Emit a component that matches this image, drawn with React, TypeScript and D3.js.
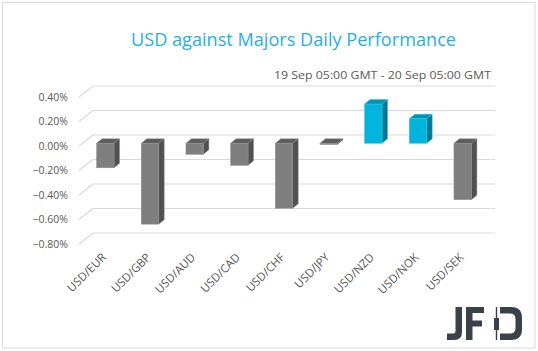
import React from "react";
import * as d3 from "d3";

const pairs = ["USD/EUR", "USD/GBP", "USD/AUD", "USD/CAD", "USD/CHF", "USD/JPY", "USD/NZD", "USD/NOK", "USD/SEK"];
const changes = [-0.2, -0.66, -0.09, -0.18, -0.53, -0.01, 0.32, 0.2, -0.46];
const yTicks = [0.4, 0.2, 0, -0.2, -0.4, -0.6, -0.8];

const W = 538;
const H = 351;
const depthX = 14;
const depthY = -11;
const barDx = 5.5;
const barDy = -4.5;

const App = () => {
    // front plane of the side wall (labels hang off this)
    const yFront = d3.scaleLinear().domain([-0.8, 0.4]).range([244, 97]);
    // bar fronts sit a little into the depth
    const yBar = d3.scaleLinear().domain([-0.8, 0.4]).range([241.3, 94.3]);
    const x = d3.scaleBand().domain(pairs).range([83, 485]);
    const bw = x.bandwidth() * 0.39;
    const wallLeft = 79;
    const wallRight = 495;

    return (
        <svg width={W} height={H} style={{ position: "absolute", left: 0, top: 0, background: "#fff" }}>
            <rect x={2.5} y={2.5} width={532.5} height={345.5} fill="#fff" stroke="#d9d9d9" strokeWidth={1} />
            <text
                x={131}
                y={46}
                fontFamily="Open Sans"
                fontSize={18}
                fill="#1fb1e0"
                textLength={325}
                lengthAdjust="spacingAndGlyphs"
            >
                USD against Majors Daily Performance
            </text>
            <text
                x={491}
                y={78.5}
                textAnchor="end"
                fontFamily="Open Sans"
                fontSize={11.5}
                fill="#595959"
                textLength={217}
                lengthAdjust="spacingAndGlyphs"
            >
                19 Sep 05:00 GMT - 20 Sep 05:00 GMT
            </text>

            {yTicks.map((t) => (
                <g key={t}>
                    <line
                        x1={wallLeft + depthX}
                        x2={wallRight}
                        y1={yFront(t) + depthY}
                        y2={yFront(t) + depthY}
                        stroke="#d9d9d9"
                        strokeWidth={1.2}
                    />
                    <line
                        x1={wallLeft}
                        x2={wallLeft + depthX}
                        y1={yFront(t)}
                        y2={yFront(t) + depthY}
                        stroke="#d9d9d9"
                        strokeWidth={1.2}
                    />
                    <text
                        x={68}
                        y={yFront(t)}
                        dy="0.35em"
                        textAnchor="end"
                        fontFamily="Open Sans"
                        fontSize={10.5}
                        fill="#595959"
                    >
                        {d3.format(".2f")(t * 1) + "%"}
                    </text>
                </g>
            ))}

            {pairs.map((p, i) => {
                const v = changes[i];
                const x0 = (x(p) as number) + (x.bandwidth() - bw) / 2;
                const x1 = x0 + bw;
                const top = yBar(Math.max(v, 0));
                const bot = Math.max(yBar(Math.min(v, 0)), top + 1.2);
                const up = v > 0;
                const front = up ? "#00b4dc" : "#7f7f7f";
                const side = up ? "#00758f" : "#505050";
                const lid = up ? "#0092b3" : "#5c5c5c";
                const edge = up ? "#33c3e6" : "#8c8c8c";
                return (
                    <g key={p}>
                        <polygon
                            points={`${x0},${top} ${x0 + barDx},${top + barDy} ${x1 + barDx},${top + barDy} ${x1},${top}`}
                            fill={lid}
                            stroke={edge}
                            strokeWidth={0.5}
                        />
                        <polygon
                            points={`${x1},${top} ${x1 + barDx},${top + barDy} ${x1 + barDx},${bot + barDy} ${x1},${bot}`}
                            fill={side}
                            stroke={edge}
                            strokeWidth={0.5}
                        />
                        <rect x={x0} y={top} width={bw} height={bot - top} fill={front} stroke={edge} strokeWidth={0.5} />
                    </g>
                );
            })}

            {pairs.map((p) => {
                const cx = (x(p) as number) + x.bandwidth() / 2 + 1.5;
                return (
                    <text
                        key={p}
                        transform={`translate(${cx},${258}) rotate(-45)`}
                        textAnchor="end"
                        fontFamily="Open Sans"
                        fontSize={11.5}
                        fill="#595959"
                    >
                        {p}
                    </text>
                );
            })}

            <g fill="#3b4148">
                <path d="M455.5,307 H462 V332 Q462,340 454,340 H447 V333.5 H453 Q455.5,333.5 455.5,331 Z" />
                <path d="M466,307 H484 V313 H472.5 V320.5 H482 V326.5 H472.5 V340 H466 Z" />
                <rect x={495.8} y={307} width={1.4} height={33} />
                <rect x={494} y={318} width={5} height={12} />
                <path d="M500,307 H511 Q522,307 522,318 V329 Q522,340 511,340 H500 V333.5 H510 Q515.5,333.5 515.5,328 V319 Q515.5,313.5 510,313.5 H500 Z" />
            </g>
        </svg>
    );
};

export default App;
